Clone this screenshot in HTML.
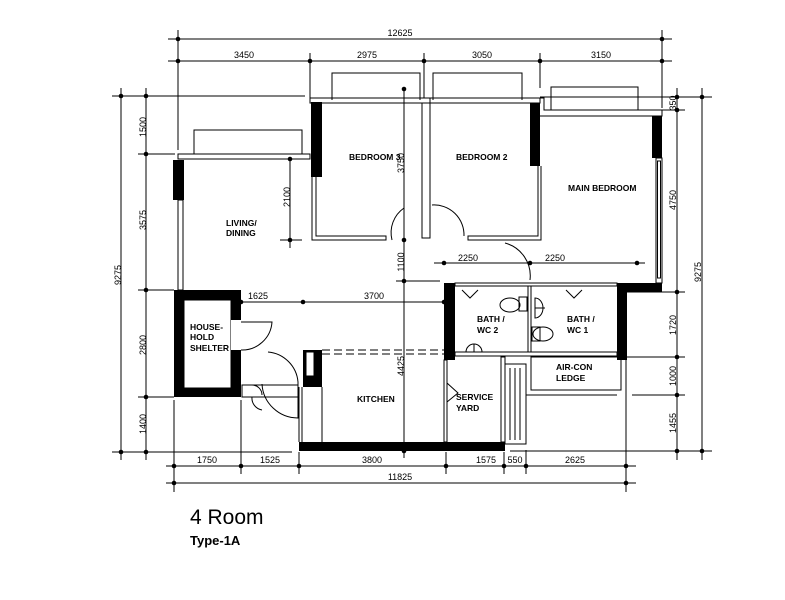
<!DOCTYPE html>
<html><head><meta charset="utf-8"><style>
html,body{margin:0;padding:0;background:#fff;}
svg{display:block;}
text{font-family:"Liberation Sans",Arial,sans-serif;fill:#000;}
.d{font-size:9px;}
.r{font-size:8.5px;font-weight:bold;}
</style></head><body>
<svg width="785" height="600" viewBox="0 0 785 600" xmlns="http://www.w3.org/2000/svg">
<g stroke="#000" stroke-width="1" fill="none">
<line x1="168" y1="39" x2="672" y2="39"/>
<line x1="168" y1="61" x2="672" y2="61"/>
<line x1="178" y1="30" x2="178" y2="150"/>
<line x1="310" y1="53" x2="310" y2="98"/>
<line x1="424" y1="53" x2="424" y2="98"/>
<line x1="540" y1="53" x2="540" y2="88"/>
<line x1="662" y1="30" x2="662" y2="108"/>
<line x1="112" y1="96" x2="305" y2="96"/>
<line x1="121" y1="88" x2="121" y2="460"/>
<line x1="146" y1="88" x2="146" y2="460"/>
<line x1="138" y1="154" x2="175" y2="154"/>
<line x1="138" y1="290" x2="174" y2="290"/>
<line x1="138" y1="397" x2="174" y2="397"/>
<line x1="112" y1="452" x2="292" y2="452"/>
<line x1="540" y1="97" x2="712" y2="97"/>
<line x1="662" y1="110" x2="685" y2="110"/>
<line x1="677" y1="88" x2="677" y2="460"/>
<line x1="702" y1="88" x2="702" y2="460"/>
<line x1="627" y1="292" x2="685" y2="292"/>
<line x1="617" y1="357" x2="685" y2="357"/>
<line x1="632" y1="395" x2="685" y2="395"/>
<line x1="510" y1="451" x2="712" y2="451"/>
<line x1="166" y1="466" x2="636" y2="466"/>
<line x1="166" y1="483" x2="636" y2="483"/>
<line x1="174" y1="400" x2="174" y2="492"/>
<line x1="241" y1="400" x2="241" y2="474"/>
<line x1="299" y1="452" x2="299" y2="474"/>
<line x1="446" y1="452" x2="446" y2="474"/>
<line x1="504" y1="452" x2="504" y2="474"/>
<line x1="526" y1="450" x2="526" y2="474"/>
<line x1="626" y1="300" x2="626" y2="492"/>
<line x1="404" y1="88" x2="404" y2="458"/>
<line x1="290" y1="158" x2="290" y2="248"/>
<line x1="280" y1="240" x2="302" y2="240"/>
<line x1="396" y1="281" x2="440" y2="281"/>
<line x1="434" y1="263" x2="645" y2="263"/>
<line x1="241" y1="302" x2="450" y2="302"/>
</g>
<g fill="#000">
<circle cx="178" cy="39" r="2.3"/><circle cx="662" cy="39" r="2.3"/>
<circle cx="178" cy="61" r="2.3"/><circle cx="310" cy="61" r="2.3"/><circle cx="424" cy="61" r="2.3"/><circle cx="540" cy="61" r="2.3"/><circle cx="662" cy="61" r="2.3"/>
<circle cx="121" cy="96" r="2.3"/><circle cx="146" cy="96" r="2.3"/><circle cx="146" cy="154" r="2.3"/><circle cx="146" cy="290" r="2.3"/><circle cx="146" cy="397" r="2.3"/><circle cx="146" cy="452" r="2.3"/><circle cx="121" cy="452" r="2.3"/>
<circle cx="677" cy="97" r="2.3"/><circle cx="677" cy="110" r="2.3"/><circle cx="702" cy="97" r="2.3"/><circle cx="677" cy="292" r="2.3"/><circle cx="677" cy="357" r="2.3"/><circle cx="677" cy="395" r="2.3"/><circle cx="677" cy="451" r="2.3"/><circle cx="702" cy="451" r="2.3"/>
<circle cx="174" cy="466" r="2.3"/><circle cx="241" cy="466" r="2.3"/><circle cx="299" cy="466" r="2.3"/><circle cx="446" cy="466" r="2.3"/><circle cx="504" cy="466" r="2.3"/><circle cx="526" cy="466" r="2.3"/><circle cx="626" cy="466" r="2.3"/>
<circle cx="174" cy="483" r="2.3"/><circle cx="626" cy="483" r="2.3"/>
<circle cx="404" cy="89" r="2.3"/><circle cx="404" cy="240" r="2.3"/><circle cx="404" cy="281" r="2.3"/><circle cx="404" cy="451" r="2.3"/>
<circle cx="290" cy="159" r="2.3"/><circle cx="290" cy="240" r="2.3"/>
<circle cx="444" cy="263" r="2.3"/><circle cx="530" cy="263" r="2.3"/><circle cx="637" cy="263" r="2.3"/>
<circle cx="241" cy="302" r="2.3"/><circle cx="303" cy="302" r="2.3"/><circle cx="444" cy="302" r="2.3"/>
<rect x="311" y="102" width="11" height="75"/>
<rect x="173" y="160" width="11" height="40"/>
<rect x="530" y="103" width="10" height="63"/>
<rect x="652" y="116" width="10" height="42"/>
<rect x="617" y="283" width="45" height="9"/>
<rect x="617" y="283" width="10" height="77"/>
<rect x="444" y="283" width="11" height="77"/>
<rect x="174" y="290" width="67" height="107"/>
<rect x="299" y="442" width="206" height="9"/>
<rect x="303" y="350" width="19" height="37"/>
</g>
<g stroke="#000" stroke-width="1" fill="#fff">
<rect x="184" y="300" width="47" height="88"/>
<rect x="231" y="320" width="11" height="30" stroke="none"/>
<rect x="306" y="352" width="8" height="24"/>
</g>
<g stroke="#000" stroke-width="1" fill="none">
<polyline points="194,154 194,130 302,130 302,154"/>
<polyline points="332,100 332,73 420,73 420,100"/>
<polyline points="433,100 433,73 522,73 522,100"/>
<polyline points="551,110 551,87 638,87 638,110"/>
<rect x="178" y="154" width="132" height="5"/>
<rect x="310" y="98" width="120" height="5"/>
<rect x="430" y="98" width="110" height="5"/>
<polyline points="540,98 544,98 544,110 662,110 662,116 540,116"/>
<rect x="178" y="200" width="5" height="90"/>
<polyline points="312,177 312,240 386,240 386,236 316,236 316,177"/>
<rect x="422" y="103" width="8" height="135"/>
<polyline points="538,166 538,236 468,236 468,240 541,240 541,166"/>
<rect x="656" y="158" width="6" height="125"/>
<rect x="657.5" y="161" width="3" height="117"/>
<rect x="455" y="283" width="162" height="3"/>
<rect x="455" y="352" width="162" height="4"/>
<rect x="528" y="286" width="3" height="66"/>
<path d="M392 240 A30 30 0 0 1 404 208"/>
<path d="M432 205 A30 30 0 0 1 464 236"/>
<path d="M505 243 A34 34 0 0 1 530 280"/>
<path d="M241 322 L272 322 A30 30 0 0 1 241 350"/>
<path d="M268 352 A33 33 0 0 1 298 382 L298 418 A36 36 0 0 1 262 384"/>
<rect x="242" y="385" width="56" height="12"/>
<path d="M252 385 A10 10 0 0 1 262 395 M252 397 A12 12 0 0 0 262 410"/>
<line x1="299" y1="387" x2="299" y2="442"/>
<line x1="302" y1="387" x2="302" y2="442"/>
<line x1="322" y1="387" x2="322" y2="442"/>
<line x1="322" y1="350" x2="444" y2="350" stroke-dasharray="8,4"/>
<line x1="322" y1="354" x2="444" y2="354" stroke-dasharray="8,4"/>
<rect x="444" y="360" width="3" height="82"/>
<polyline points="447,383 458,393 447,402"/>
<rect x="501" y="357" width="4" height="85"/>
<rect x="505" y="364" width="21" height="80"/>
<line x1="510" y1="368" x2="510" y2="440"/><line x1="515" y1="368" x2="515" y2="440"/><line x1="520" y1="368" x2="520" y2="440"/>
<line x1="526" y1="395" x2="617" y2="395"/>
<rect x="531" y="357" width="90" height="33"/>
<ellipse cx="510" cy="305" rx="10" ry="7"/><rect x="519" y="297" width="8" height="14"/>
<path d="M535 298 A8 10 0 0 1 535 318 Z"/><line x1="535" y1="308" x2="545" y2="308"/>
<ellipse cx="543" cy="334" rx="10" ry="7"/><rect x="532" y="327" width="8" height="14"/>
<path d="M466 352 A8 8 0 0 1 482 352 Z"/><line x1="474" y1="344" x2="474" y2="352"/>
<polyline points="462,290 470,298 478,290"/><polyline points="566,290 574,298 582,290"/>
</g>
<g class="r">
<text x="349" y="160">BEDROOM 3</text>
<text x="456" y="160">BEDROOM 2</text>
<text x="568" y="191">MAIN BEDROOM</text>
<text x="226" y="226">LIVING/</text><text x="226" y="236">DINING</text>
<text x="190" y="330">HOUSE-</text><text x="190" y="340">HOLD</text><text x="190" y="351">SHELTER</text>
<text x="357" y="402">KITCHEN</text>
<text x="456" y="400">SERVICE</text><text x="456" y="411">YARD</text>
<text x="477" y="322">BATH /</text><text x="477" y="333">WC 2</text>
<text x="567" y="322">BATH /</text><text x="567" y="333">WC 1</text>
<text x="556" y="370">AIR-CON</text><text x="556" y="381">LEDGE</text>
</g>
<g class="d" text-anchor="middle">
<text x="400" y="36">12625</text>
<text x="244" y="58">3450</text><text x="367" y="58">2975</text><text x="482" y="58">3050</text><text x="601" y="58">3150</text>
<text x="468" y="261">2250</text><text x="555" y="261">2250</text>
<text x="258" y="299">1625</text><text x="374" y="299">3700</text>
<text x="207" y="463">1750</text><text x="270" y="463">1525</text><text x="372" y="463">3800</text><text x="486" y="463">1575</text><text x="515" y="463">550</text><text x="575" y="463">2625</text>
<text x="400" y="480">11825</text>
<text transform="translate(146,127) rotate(-90)">1500</text>
<text transform="translate(146,220) rotate(-90)">3575</text>
<text transform="translate(146,345) rotate(-90)">2800</text>
<text transform="translate(146,424) rotate(-90)">1400</text>
<text transform="translate(121,275) rotate(-90)">9275</text>
<text transform="translate(290,197) rotate(-90)">2100</text>
<text transform="translate(404,163) rotate(-90)">3750</text>
<text transform="translate(404,262) rotate(-90)">1100</text>
<text transform="translate(404,366) rotate(-90)">4425</text>
<text transform="translate(676,200) rotate(-90)">4750</text>
<text transform="translate(676,103) rotate(-90)">350</text>
<text transform="translate(676,325) rotate(-90)">1720</text>
<text transform="translate(676,376) rotate(-90)">1000</text>
<text transform="translate(676,423) rotate(-90)">1455</text>
<text transform="translate(701,272) rotate(-90)">9275</text>
</g>
<text x="190" y="524" style="font-size:21px">4 Room</text>
<text x="190" y="545" style="font-size:13px;font-weight:bold">Type-1A</text>
</svg>
</body></html>
